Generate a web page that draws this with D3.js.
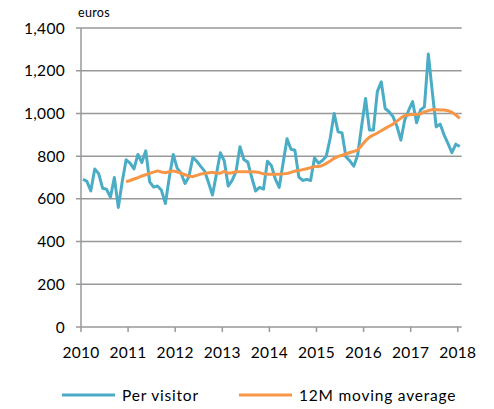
<!DOCTYPE html>
<html>
<head>
<meta charset="utf-8">
<script src="https://cdn.jsdelivr.net/npm/d3@7"></script>
<style>
  body { margin: 0; background: #fff; }
  text { font-family: Lato, "Open Sans", sans-serif; fill: #000; }
</style>
</head>
<body>
<div id="chart"></div>
<script>
// monthly values, Jan 2010 .. Jan 2018
var perVisitor = [
  692, 682, 637, 740, 718, 650, 645, 608, 700, 560, 680, 783,
  767, 740, 808, 770, 825, 680, 655, 660, 640, 578, 700, 808,
  744, 720, 672, 704, 795, 776, 752, 730, 675, 618, 715, 816,
  778, 660, 686, 727, 844, 784, 772, 700, 637, 654, 646, 776,
  756, 694, 654, 768, 881, 832, 828, 702, 686, 691, 686, 792,
  767, 780, 800, 885, 1000, 914, 909, 797, 778, 753, 805, 940,
  1070, 922, 922, 1102, 1148, 1023, 1008, 985, 940, 875, 970, 1015,
  1055, 956, 1016, 1031, 1278, 1102, 937, 950, 900, 860, 816, 856,
  845
];
// 12 month moving average, starts Dec 2010
var movingAvg = [
  680,
  686, 693, 699, 707, 713, 719, 725, 731, 726, 722, 727, 731,
  726, 720, 713, 707, 704, 710, 716, 719, 722, 724, 721, 720,
  729, 720, 722, 727, 727, 727, 727, 727, 726, 723, 717, 715,
  715, 715, 715, 717, 719, 724, 730, 733, 737, 741, 746, 751,
  751, 756, 766, 777, 790, 799, 804, 810, 817, 822, 828, 850,
  872, 889, 899, 908, 919, 930, 940, 950, 964, 978, 990, 994,
  995, 995, 998, 1007, 1013, 1018, 1017, 1016, 1016, 1013, 1005, 993,
  977
];
var years = [2010, 2011, 2012, 2013, 2014, 2015, 2016, 2017, 2018];
var yTicks = [0, 200, 400, 600, 800, 1000, 1200, 1400];
var seriesNames = ["Per visitor", "12M moving average"];
var colors = ["#4bacc6", "#f79646"];

var width = 494, height = 409;
var plotLeft = 81, plotRight = 461.7, plotTop = 28, plotBottom = 327;

var months = d3.timeMonth.range(new Date(2010, 0, 1), new Date(2018, 1, 1));

var svg = d3.select("#chart")
  .append("svg")
  .attr("width", width)
  .attr("height", height);

var x = d3.scaleBand()
  .domain(months.map(function(d, i) { return i; }))
  .range([plotLeft, plotRight])
  .padding(0);

var y = d3.scaleLinear()
  .domain([0, 1400])
  .range([plotBottom, plotTop]);

var mid = function(i) { return x(i) + x.bandwidth() / 2; };

// gridlines + y tick labels
svg.append("g")
  .selectAll("line")
  .data(yTicks)
  .enter()
  .append("line")
  .attr("x1", plotLeft - 5)
  .attr("x2", plotRight)
  .attr("y1", function(d) { return y(d); })
  .attr("y2", function(d) { return y(d); })
  .attr("stroke", "#999")
  .attr("stroke-width", 1.5);

svg.append("g")
  .selectAll("text")
  .data(yTicks)
  .enter()
  .append("text")
  .attr("x", 65)
  .attr("y", function(d) { return y(d); })
  .attr("dy", "0.36em")
  .attr("text-anchor", "end")
  .style("font-size", "15.5px")
  .style("letter-spacing", "0.3px")
  .text(function(d) { return d3.format(",")(d); });

// y axis line
svg.append("line")
  .attr("x1", plotLeft).attr("x2", plotLeft)
  .attr("y1", plotTop).attr("y2", plotBottom)
  .attr("stroke", "#999")
  .attr("stroke-width", 1.5);

// x ticks at start of each year
var yearX = function(yr) {
  var i = (yr - 2010) * 12;
  return i < months.length ? x(i) : plotRight - x.bandwidth();
};

svg.append("g")
  .selectAll("line")
  .data(years)
  .enter()
  .append("line")
  .attr("x1", yearX).attr("x2", yearX)
  .attr("y1", plotBottom).attr("y2", plotBottom + 5)
  .attr("stroke", "#999")
  .attr("stroke-width", 1.5);

svg.append("g")
  .selectAll("text")
  .data(years)
  .enter()
  .append("text")
  .attr("x", yearX)
  .attr("y", 358)
  .attr("text-anchor", "middle")
  .style("font-size", "15.5px")
  .style("letter-spacing", "0.3px")
  .text(function(d) { return d; });

svg.append("text")
  .attr("x", 78)
  .attr("y", 17)
  .style("font-size", "12.5px")
  .style("letter-spacing", "0.3px")
  .text("euros");

// lines
var line = d3.line()
  .x(function(d) { return mid(d.i); })
  .y(function(d) { return y(d.v); });

var visitorPts = perVisitor.map(function(v, i) { return {i: i, v: v}; });
var avgPts = movingAvg.map(function(v, i) { return {i: i + 11, v: v}; });

svg.append("path")
  .datum(visitorPts)
  .attr("d", line)
  .attr("fill", "none")
  .attr("stroke", colors[0])
  .attr("stroke-width", 3)
  .attr("stroke-linejoin", "round");

svg.append("path")
  .datum(avgPts)
  .attr("d", line)
  .attr("fill", "none")
  .attr("stroke", colors[1])
  .attr("stroke-width", 3)
  .attr("stroke-linejoin", "round");

// legend
var legendX = [62, 239];
for (var k = 0; k < 2; k++) {
  svg.append("line")
    .attr("x1", legendX[k]).attr("x2", legendX[k] + 53)
    .attr("y1", 395).attr("y2", 395)
    .attr("stroke", colors[k])
    .attr("stroke-width", 3);
  svg.append("text")
    .attr("x", legendX[k] + 60)
    .attr("y", 395)
    .attr("dy", "0.36em")
    .style("font-size", "15.5px")
    .style("letter-spacing", "0.8px")
    .text(seriesNames[k]);
}
</script>
</body>
</html>
